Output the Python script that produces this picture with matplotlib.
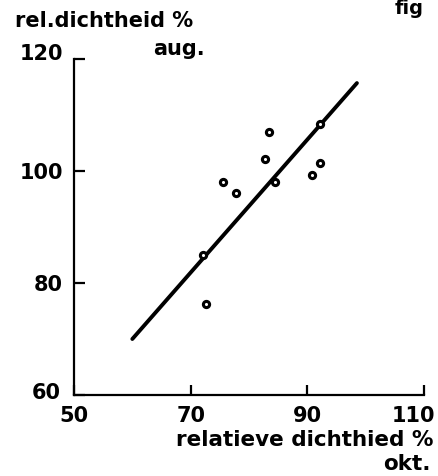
import matplotlib
matplotlib.use("Agg")
import matplotlib.pyplot as plt
import matplotlib.transforms as mtransforms

# data
okt = [92.2, 83.5, 82.8, 92.2, 90.8, 84.5, 75.5, 77.8, 72.2, 72.6]
aug = [108.4, 107.0, 102.1, 101.5, 99.2, 98.0, 98.0, 96.0, 85.0, 76.2]
line_x = [60.0, 98.5]
line_y = [70.0, 115.7]
xticks = [50, 70, 90, 110]
yticks = [60, 80, 100, 120]

plt.rcParams['font.family'] = ['DejaVu Sans']
plt.rcParams['font.weight'] = 'bold'
fig = plt.figure(figsize=(4.39, 4.76), dpi=100)
ax = fig.add_axes([74/439, 1-395/476, (424-74)/439, (395-59)/476])
ax.set_xlim(50, 110)
ax.set_ylim(60, 120)
for s in ['top', 'right']:
    ax.spines[s].set_visible(False)
for s in ['left', 'bottom']:
    ax.spines[s].set_linewidth(1.6)

ax.plot(line_x, line_y, color='black', lw=2.8, solid_capstyle='round')
ax.scatter(okt, aug, s=20, facecolors='white', edgecolors='black', linewidths=2.2, zorder=3)

ax.set_xticks(xticks)
ax.set_yticks(yticks)
ax.tick_params(axis='y', direction='in', length=8, width=1.6, labelsize=15, pad=8)
ax.tick_params(axis='x', direction='in', length=7, width=1.6, labelsize=15, pad=8)
ax.set_xticklabels([str(t) for t in xticks], fontweight='bold')
ax.set_yticklabels([str(t) for t in yticks], fontweight='bold')

# shift end labels like the reference
xl = ax.get_xticklabels()
xl[-1].set_transform(xl[-1].get_transform() + mtransforms.ScaledTranslation(-11/100, 0, fig.dpi_scale_trans))
yl = ax.get_yticklabels()
yl[-1].set_transform(yl[-1].get_transform() + mtransforms.ScaledTranslation(0, 7/100, fig.dpi_scale_trans))
yl[0].set_transform(yl[0].get_transform() + mtransforms.ScaledTranslation(-2/100, 4/100, fig.dpi_scale_trans))

fig.text(15/439, 1-27/476, "rel.dichtheid %", ha='left', va='baseline', fontsize=15, fontweight='bold')
fig.text(153/439, 1-55/476, "aug.", ha='left', va='baseline', fontsize=15, fontweight='bold')
fig.text(433/439, 1-446/476, "relatieve dichthied %", ha='right', va='baseline', fontsize=15.5, fontweight='bold')
fig.text(431/439, 1-470/476, "okt.", ha='right', va='baseline', fontsize=15.5, fontweight='bold')
fig.text(395/439, 1-14/476, "fig", ha='left', va='baseline', fontsize=14, fontweight='bold')

fig.savefig("out.png", dpi=100, facecolor='white')
